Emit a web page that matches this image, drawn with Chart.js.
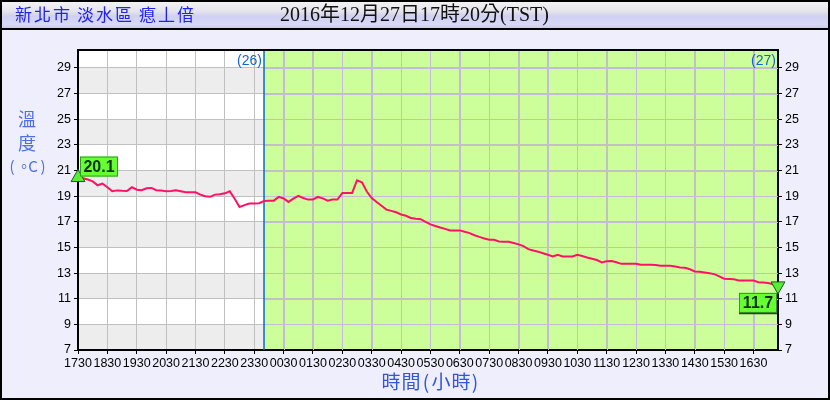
<!DOCTYPE html>
<html>
<head>
<meta charset="utf-8">
<script src="https://cdn.jsdelivr.net/npm/chart.js@4.4.0/dist/chart.umd.min.js"></script>
<style>
html, body { margin: 0; padding: 0; background: #EEEEFC; }
#wrap { width: 830px; height: 400px; }
</style>
</head>
<body>
<div id="wrap"><canvas id="chart1" width="830" height="400"></canvas></div>
<script>
'use strict';

const stationName = '新北市 淡水區 瘜丄偣';
const issueTime = '2016年12月27日17時20分(TST)';
const startTime = [17, 30];      // first reading, every 10 minutes
const temps = [
    20.45, 20.4, 20.3, 20.15, 19.85, 19.98, 19.7, 19.38, 19.45, 19.42,
    19.4, 19.7, 19.5, 19.46, 19.62, 19.64, 19.46, 19.44, 19.38, 19.4,
    19.46, 19.38, 19.3, 19.3, 19.3, 19.12, 19.0, 18.95, 19.12, 19.15,
    19.22, 19.38, 18.8, 18.15, 18.3, 18.42, 18.42, 18.45, 18.62, 18.65,
    18.65, 18.94, 18.83, 18.55, 18.8, 19.02, 18.86, 18.73, 18.73, 18.94,
    18.83, 18.65, 18.73, 18.73, 19.25, 19.25, 19.25, 20.24, 20.08, 19.36,
    18.85, 18.55, 18.25, 17.95, 17.85, 17.74, 17.57, 17.47, 17.3, 17.23,
    17.2, 17.0, 16.8, 16.67, 16.55, 16.45, 16.33, 16.33, 16.33, 16.22,
    16.12, 15.95, 15.82, 15.7, 15.6, 15.6, 15.47, 15.45, 15.44, 15.34,
    15.24, 15.1, 14.87, 14.76, 14.67, 14.55, 14.43, 14.29, 14.43, 14.29,
    14.29, 14.29, 14.42, 14.33, 14.22, 14.12, 14.02, 13.83, 13.92, 13.94,
    13.85, 13.72, 13.72, 13.72, 13.72, 13.65, 13.65, 13.65, 13.63, 13.57,
    13.57, 13.57, 13.52, 13.44, 13.41, 13.3, 13.13, 13.1, 13.04, 12.98,
    12.92, 12.74, 12.56, 12.54, 12.52, 12.43, 12.42, 12.42, 12.42, 12.29,
    12.27, 12.22, 12.12, 12.0
];
const firstMark = '20.1';
const lastMark = '11.7';
const dayBreak = '2350';
const dayLabels = ['(26)', '(27)'];
const yTicks = [7, 8, 9, 10, 11, 12, 13, 14, 15, 16, 17, 18, 19, 20, 21, 22, 23, 24, 25, 26, 27, 28, 29, 30];
const yRange = [7, 30.4];
const shadedBands = [[7, 9], [11, 13], [15, 17], [19, 21], [23, 25], [27, 29]];

// HHMM labels for each reading
const timeLabels = temps.map(function (v, i) {
    let m = startTime[0] * 60 + startTime[1] + i * 10;
    m = m % 1440;
    const h = Math.floor(m / 60), mm = m % 60;
    return String(h).padStart(2, '0') + String(mm).padStart(2, '0');
});
const last = temps.length - 1;

const tickFont = { family: "'Liberation Sans Narrow', 'Liberation Sans', sans-serif", size: 12.5 };

function setYTicks(scale) {
    scale.ticks = yTicks.map(function (v) { return { value: v }; });
}

const decor = {
    id: 'decor',
    beforeDraw(chart) {
        const ctx = chart.ctx, a = chart.chartArea;
        const x = chart.scales.x, y = chart.scales.y;
        ctx.save();
        ctx.fillStyle = '#EEEEFC';
        ctx.fillRect(0, 0, chart.width, chart.height);

        // title bar
        const g = ctx.createLinearGradient(0, 0, 0, 29);
        g.addColorStop(0, '#F6F6F8');
        g.addColorStop(0.4, '#E4E4EA');
        g.addColorStop(0.55, '#D0D0F2');
        g.addColorStop(0.85, '#D8D8F6');
        g.addColorStop(1, '#C8C8DC');
        ctx.fillStyle = g;
        ctx.fillRect(0, 0, chart.width, 29);

        // plot background + bands
        ctx.fillStyle = '#FFFFFF';
        ctx.fillRect(a.left, a.top, a.width, a.height);
        ctx.fillStyle = '#EDEDED';
        shadedBands.forEach(function (b) {
            const y1 = y.getPixelForValue(b[1]), y0 = y.getPixelForValue(b[0]);
            ctx.fillRect(a.left, y1, a.width, y0 - y1);
        });
        const xb = x.getPixelForValue(timeLabels.indexOf(dayBreak));
        ctx.fillStyle = '#CCFF99';
        ctx.fillRect(xb, a.top, a.right - xb, a.height);
        ctx.restore();
    },
    beforeDatasetsDraw(chart) {
        const ctx = chart.ctx, a = chart.chartArea;
        const x = chart.scales.x, y = chart.scales.y;
        const xb = x.getPixelForValue(timeLabels.indexOf(dayBreak));
        ctx.save();
        // grid over the green part is lavender
        ctx.beginPath();
        ctx.rect(xb + 1, a.top, a.right - xb - 1, a.height);
        ctx.clip();
        ctx.strokeStyle = '#C4BCD8';
        ctx.lineWidth = 1;
        ctx.beginPath();
        x.ticks.forEach(function (t) {
            const px = Math.round(x.getPixelForValue(t.value)) + 0.5;
            ctx.moveTo(px, a.top); ctx.lineTo(px, a.bottom);
        });
        y.ticks.forEach(function (t) {
            const py = Math.round(y.getPixelForValue(t.value)) + 0.5;
            ctx.moveTo(a.left, py); ctx.lineTo(a.right, py);
        });
        ctx.stroke();
        ctx.restore();

        ctx.save();
        ctx.strokeStyle = '#0A66DD';
        ctx.lineWidth = 1.5;
        ctx.beginPath();
        ctx.moveTo(xb, a.top); ctx.lineTo(xb, a.bottom);
        ctx.stroke();
        ctx.fillStyle = '#1166CC';
        ctx.font = "14px 'Liberation Sans', sans-serif";
        ctx.textAlign = 'right';
        ctx.textBaseline = 'middle';
        ctx.fillText(dayLabels[0], xb - 2, a.top + 11);
        ctx.fillText(dayLabels[1], a.right - 2, a.top + 11);
        ctx.restore();
    },
    afterDraw(chart) {
        const ctx = chart.ctx, a = chart.chartArea;
        const x = chart.scales.x, y = chart.scales.y;
        ctx.save();

        // frame top
        ctx.strokeStyle = '#000';
        ctx.lineWidth = 2;
        ctx.beginPath();
        ctx.moveTo(a.left - 1, a.top); ctx.lineTo(a.right + 1, a.top);
        ctx.stroke();

        // value boxes at both ends
        const p0x = x.getPixelForValue(0), p0y = y.getPixelForValue(temps[0]);
        const p1x = x.getPixelForValue(last), p1y = y.getPixelForValue(temps[last]);
        function box(left, top, text) {
            ctx.fillStyle = '#66FF33';
            ctx.fillRect(left, top, 38, 20);
            ctx.strokeStyle = '#339922';
            ctx.lineWidth = 1;
            ctx.strokeRect(left + 0.5, top + 0.5, 37, 19);
            ctx.fillStyle = '#0B300B';
            ctx.font = "bold 16px 'Liberation Sans', sans-serif";
            ctx.textAlign = 'center';
            ctx.textBaseline = 'middle';
            ctx.fillText(text, left + 19, top + 11);
        }
        box(p0x + 2, p0y - 21, firstMark);
        box(p1x - 39, p1y + 7, lastMark);
        ctx.strokeStyle = '#224422';
        ctx.lineWidth = 1.5;
        ctx.beginPath();
        ctx.moveTo(p1x - 39, p1y + 27.5); ctx.lineTo(p1x - 1, p1y + 27.5);
        ctx.stroke();

        // titles
        ctx.fillStyle = '#2222EE';
        ctx.font = "17px 'Noto Sans CJK TC', sans-serif";
        ctx.textAlign = 'left';
        ctx.textBaseline = 'middle';
        let cx = 15;
        for (const ch of stationName) {
            if (ch === ' ') { cx += 5; continue; }
            ctx.fillText(ch, cx, 15);
            cx += 19;
        }
        ctx.fillStyle = '#111';
        ctx.font = "20px 'Liberation Serif', 'Noto Sans CJK TC', serif";
        ctx.fillText(issueTime, 280, 16);

        ctx.fillStyle = '#4F70E0';
        ctx.font = "18px 'Noto Sans CJK TC', sans-serif";
        ctx.textAlign = 'center';
        ctx.fillText('溫', 27, 119);
        ctx.fillText('度', 27, 143);
        ctx.font = "15px 'Noto Sans CJK TC', sans-serif";
        ctx.fillText('(', 12, 166);
        ctx.fillText('。', 24, 166);
        ctx.fillText('C', 33, 166);
        ctx.fillText(')', 43, 166);

        // x title, spaced out like the original
        ctx.fillStyle = '#3355DD';
        ctx.font = "19px 'Noto Sans CJK TC', sans-serif";
        const xt = ['時', '間', '(', '小', '時', ')'];
        const xs = [391, 411, 426, 441, 461, 475];
        xt.forEach(function (ch, i) { ctx.fillText(ch, xs[i], 382); });

        // title bar rule and outer border
        ctx.strokeStyle = '#000';
        ctx.lineWidth = 2;
        ctx.beginPath();
        ctx.moveTo(0, 29); ctx.lineTo(chart.width, 29);
        ctx.stroke();
        ctx.strokeRect(1, 1, chart.width - 2, chart.height - 2);
        ctx.restore();
    }
};

window.onload = function () {
    new Chart(document.getElementById('chart1'), {
        type: 'line',
        data: {
            labels: timeLabels,
            datasets: [{
                data: temps,
                borderColor: '#FF1166',
                borderWidth: 2,
                pointRadius: 0,
                tension: 0,
                fill: false,
                order: 1
            }, {
                data: temps.map(function (v, i) { return (i === 0 || i === last) ? v : null; }),
                showLine: false,
                pointStyle: 'triangle',
                pointRadius: function (c) { return (c.dataIndex === 0 || c.dataIndex === last) ? 8 : 0; },
                rotation: function (c) { return c.dataIndex === last ? 180 : 0; },
                backgroundColor: '#55EE33',
                borderColor: '#225522',
                borderWidth: 1,
                clip: false,
                order: 0
            }]
        },
        options: {
            responsive: false,
            animation: false,
            devicePixelRatio: 1,
            layout: { padding: { top: 50, left: 0, right: 0, bottom: 0 } },
            plugins: { legend: { display: false }, tooltip: { enabled: false } },
            scales: {
                x: {
                    type: 'category',
                    offset: false,
                    grid: { color: '#C0C0C0', tickColor: '#000', tickLength: 4, lineWidth: 1 },
                    border: { color: '#000', width: 2 },
                    ticks: { autoSkip: false, maxRotation: 0, padding: 2, color: '#000', font: tickFont },
                    afterBuildTicks: function (scale) {
                        scale.ticks = scale.ticks.filter(function (t) { return t.value % 6 === 0; });
                    },
                    afterFit: function (scale) { scale.height = 50; }
                },
                y: {
                    position: 'left',
                    min: yRange[0],
                    max: yRange[1],
                    grid: { color: '#C0C0C0', tickColor: '#000', tickLength: 4, lineWidth: 1 },
                    border: { color: '#000', width: 2 },
                    ticks: {
                        padding: 3, color: '#000', font: tickFont,
                        callback: function (v) { return v % 2 === 1 ? String(v) : ''; }
                    },
                    afterBuildTicks: setYTicks,
                    afterFit: function (scale) { scale.width = 78; }
                },
                y2: {
                    position: 'right',
                    min: yRange[0],
                    max: yRange[1],
                    grid: { drawOnChartArea: false, tickColor: '#000', tickLength: 4 },
                    border: { color: '#000', width: 2 },
                    ticks: {
                        padding: 3, color: '#000', font: tickFont,
                        callback: function (v) { return v % 2 === 1 ? String(v) : ''; }
                    },
                    afterBuildTicks: setYTicks,
                    afterFit: function (scale) { scale.width = 52; }
                }
            }
        },
        plugins: [decor]
    });
};
</script>
</body>
</html>
